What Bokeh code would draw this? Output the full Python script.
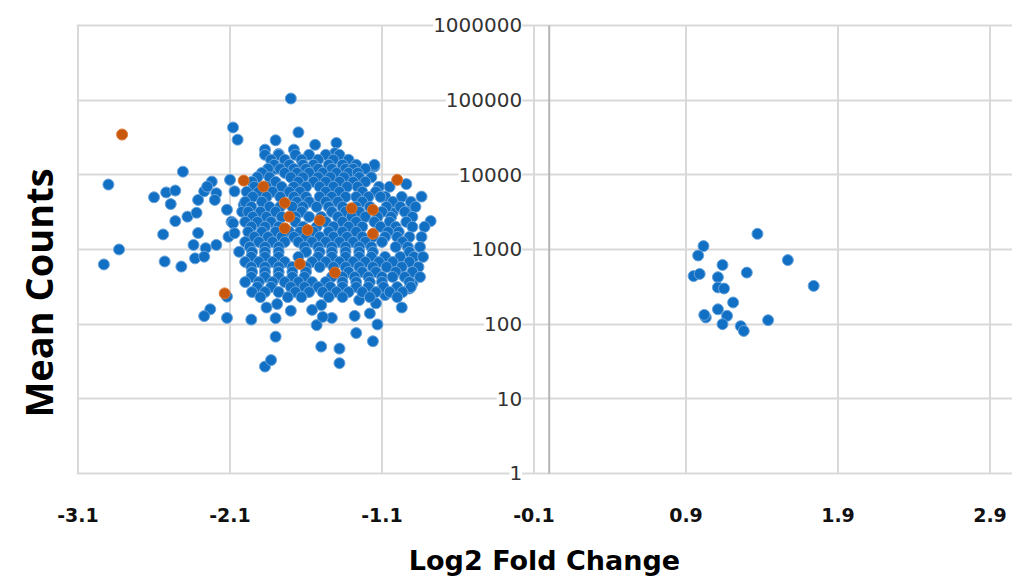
import math
from bokeh.plotting import figure
from bokeh.models import FixedTicker, Label, Title
from bokeh.embed import file_html
from bokeh.resources import INLINE

# ---------------- data ----------------
xtick_values = [-3.1, -2.1, -1.1, -0.1, 0.9, 1.9, 2.9]
xtick_labels = ["-3.1", "-2.1", "-1.1", "-0.1", "0.9", "1.9", "2.9"]
ytick_values = [1, 10, 100, 1000, 10000, 100000, 1000000]
ytick_labels = ["1", "10", "100", "1000", "10000", "100000", "1000000"]
value_axis_at = 0.0

# sparse blue points (left group)
sparse_lfc = [-2.90, -2.41, -2.08, -2.05, -2.60, -2.52, -2.46, -2.49, -2.46, -2.38, -2.32, -2.31,
              -2.27, -2.22, -2.19, -2.20, -2.25, -2.12, -2.10, -2.07, -2.01, -2.02, -2.09,
              -1.70, -1.65, -1.80, -1.87, -1.78, -1.68, -1.54, -1.40, -1.41, -1.15, -1.80,
              -0.94, -0.84, -0.90, -0.78, -1.08, -1.03,
              -2.83, -2.93, -2.53, -2.42, -2.54, -2.31, -2.34, -2.33, -2.26, -2.19, -2.27,
              -2.12, -2.23, -2.27, -2.12, -2.08, -2.11, -2.07, -2.04,
              -1.96, -1.80, -1.87, -1.83, -1.86, -1.79, -1.80, -1.70, -1.50, -1.38, -1.38,
              -1.53, -1.43, -1.28, -1.27, -1.16, -1.13, -1.18, -0.97, -0.92, -0.88, -1.50,
              -1.56, -1.49, -1.14, -1.08, -1.25, -0.90]
sparse_counts = [7400, 11000, 43000, 29500, 5000, 5800, 6150, 4050, 2400, 2750, 3100, 4600,
                 6000, 8100, 5650, 4600, 6950, 3400, 8550, 6000, 3950, 3200, 2350,
                 105000, 37000, 29000, 21700, 19000, 21700, 25200, 26700, 19500, 12900, 12000,
                 7500, 5100, 3750, 2400, 5100, 3080,
                 1000, 630, 690, 590, 1590, 1660, 1150, 760, 1040, 1150, 800,
                 233, 158, 128, 121, 2240, 1480, 1650, 930,
                 115, 68, 27, 33, 167, 186, 120, 151, 50, 47, 30,
                 97, 121, 129, 76, 59, 99, 139, 167, 300, 560, 180,
                 155, 125, 190, 245, 210, 350]

# dense core of the left group, read row by row (counts of the row, fold changes in it)
core_row_counts = [18500, 15900, 13600, 12000, 10600, 9250, 8050, 6900, 5910, 5060, 4340, 3720,
                   3190, 2730, 2340, 2010, 1720, 1470, 1260, 1080, 925, 795, 680, 582, 499, 428,
                   366, 314, 269, 230]
core_row_lfc = [
    [-1.87, -1.78, -1.67, -1.58, -1.47, -1.38],
    [-1.83, -1.74, -1.63, -1.52, -1.42, -1.32],
    [-1.81, -1.71, -1.62, -1.55, -1.45, -1.36, -1.27, -1.15],
    [-1.85, -1.77, -1.68, -1.60, -1.52, -1.43, -1.34, -1.29, -1.21],
    [-1.89, -1.74, -1.66, -1.58, -1.49, -1.40, -1.32, -1.26],
    [-1.92, -1.84, -1.70, -1.62, -1.52, -1.44, -1.35, -1.25, -1.17],
    [-1.955, -1.80, -1.65, -1.55, -1.47, -1.38, -1.29, -1.21],
    [-1.94, -1.86, -1.76, -1.68, -1.60, -1.51, -1.42, -1.33, -1.26, -1.12, -1.05],
    [-1.99, -1.91, -1.82, -1.71, -1.64, -1.47, -1.38, -1.23, -1.14],
    [-1.95, -1.86, -1.77, -1.68, -1.60, -1.51, -1.43, -1.34, -1.27, -1.19, -1.11, -0.97],
    [-2.00, -1.89, -1.66, -1.58, -1.47, -1.39, -1.23, -1.03, -0.91],
    [-1.96, -1.84, -1.77, -1.69, -1.62, -1.53, -1.45, -1.36, -1.27, -1.18, -1.07, -0.98, -0.88],
    [-1.98, -1.90, -1.80, -1.63, -1.43, -1.34, -1.25, -1.10, -0.95],
    [-1.95, -1.86, -1.76, -1.67, -1.58, -1.50, -1.39, -1.30, -1.21, -1.13, -1.04, -0.90],
    [-2.00, -1.92, -1.83, -1.67, -1.47, -1.36, -1.27, -1.15, -1.05, -0.94],
    [-1.96, -1.87, -1.78, -1.62, -1.53, -1.42, -1.32, -1.23, -1.11, -1.01, -0.90, -0.82],
    [-1.98, -1.89, -1.80, -1.71, -1.64, -1.55, -1.45, -1.36, -1.27, -1.06, -0.99],
    [-1.94, -1.85, -1.76, -1.68, -1.60, -1.51, -1.42, -1.33, -1.23, -1.16, -1.08, -1.00, -0.92, -0.84],
    [-2.00, -1.91, -1.82, -1.74, -1.65, -1.56, -1.47, -1.38, -1.29, -1.21, -1.10, -0.965],
    [-1.97, -1.87, -1.78, -1.61, -1.52, -1.43, -1.34, -1.25, -1.17, -1.01, -0.93, -0.85],
    [-1.955, -1.87, -1.78, -1.60, -1.51, -1.43, -1.34, -1.25, -1.16, -0.92],
    [-1.96, -1.87, -1.78, -1.65, -1.52, -1.43, -1.34, -1.25, -1.17, -1.08, -0.98, -0.89, -0.83],
    [-2.00, -1.91, -1.82, -1.74, -1.56, -1.47, -1.38, -1.29, -1.21, -1.12, -1.03, -0.92],
    [-1.96, -1.87, -1.78, -1.69, -1.60, -1.51, -1.42, -1.34, -1.25, -1.16, -1.07, -0.97, -0.86],
    [-1.955, -1.87, -1.78, -1.69, -1.60, -1.32, -1.23, -1.14, -1.01, -0.90],
    [-1.96, -1.87, -1.78, -1.69, -1.61, -1.43, -1.36, -1.28, -1.19, -1.10, -1.03, -0.95, -0.85],
    [-2.00, -1.91, -1.82, -1.74, -1.65, -1.56, -1.47, -1.36, -1.27, -1.18, -1.10, -0.92],
    [-1.92, -1.83, -1.70, -1.61, -1.52, -1.44, -1.36, -1.27, -1.19, -1.09, -1.00, -0.91],
    [-1.955, -1.87, -1.78, -1.67, -1.58, -1.49, -1.40, -1.32, -1.23, -1.14, -1.05, -0.965],
    [-1.90, -1.72, -1.63, -1.45, -1.36, -1.18, -1.00],
]

# right group (positive fold change)
right_lfc = [1.37, 1.015, 0.98, 1.57, 1.14, 1.30, 0.95, 0.99, 1.11, 1.74, 1.11, 1.15,
             1.21, 1.11, 1.17, 1.03, 1.44, 1.14, 1.26, 1.28, 1.02]
right_counts = [1620, 1110, 830, 720, 620, 490, 440, 470, 425, 325, 310, 300,
                195, 158, 129, 123, 113, 100, 94, 81, 133]

# highlighted (orange) genes
orange_lfc = [-2.81, -2.01, -1.88, -1.74, -1.71, -1.74, -1.59, -1.51, -1.30, -1.16, -1.16, -1.00,
              -1.64, -1.41, -2.135]
orange_counts = [34600, 8350, 6950, 4200, 2750, 1920, 1820, 2450, 3560, 3390, 1620, 8550,
                 640, 490, 258]

# ---------------- assemble ----------------
blue_lfc = list(sparse_lfc) + list(right_lfc)
blue_counts = list(sparse_counts) + list(right_counts)
for c, row in zip(core_row_counts, core_row_lfc):
    for v in row:
        blue_lfc.append(v)
        blue_counts.append(c)

BLUE = "#1270C4"
BLUE_EDGE = "#6AA4DC"
ORANGE = "#C8580E"
ORANGE_EDGE = "#E07A33"
GRID = "#D9D9D9"

ymin, ymax = ytick_values[0], ytick_values[-1]

p = figure(width=1012, height=581, x_range=(-3.11, 3.048), y_range=(0.712, 1.40e6),
           y_axis_type="log", output_backend="svg", toolbar_location=None,
           min_border_left=76, min_border_right=0, min_border_top=14, min_border_bottom=97)
p.outline_line_color = None
p.background_fill_color = "white"
p.border_fill_color = "white"

p.yaxis.visible = False
p.xaxis.ticker = FixedTicker(ticks=xtick_values)
p.xaxis.major_label_overrides = {v: s for v, s in zip(xtick_values, xtick_labels)}
p.xaxis.axis_line_color = None
p.xaxis.major_tick_line_color = None
p.xaxis.minor_tick_line_color = None
p.xaxis.major_tick_out = 0
p.xaxis.major_tick_in = 0
p.xaxis.major_label_standoff = 23
p.xaxis.major_label_text_font = "DejaVu Sans"
p.xaxis.major_label_text_font_style = "bold"
p.xaxis.major_label_text_font_size = "19px"
p.xaxis.major_label_text_color = "#111111"
p.xaxis.axis_label = "Log2 Fold Change"
p.xaxis.axis_label_standoff = 20
p.xaxis.axis_label_text_font = "DejaVu Sans"
p.xaxis.axis_label_text_font_style = "bold"
p.xaxis.axis_label_text_font_size = "27px"
p.xaxis.axis_label_text_color = "#000000"

# vertical grid lines only between 1 and 1e6
p.xgrid.visible = False
p.segment(x0=xtick_values, y0=[ymin] * len(xtick_values), x1=xtick_values,
          y1=[ymax] * len(xtick_values), line_color=GRID, line_width=2)
p.ygrid.ticker = FixedTicker(ticks=ytick_values)
p.ygrid.grid_line_color = GRID
p.ygrid.grid_line_width = 2

# vertical value axis crossing at x = 0
p.segment(x0=[value_axis_at], y0=[ymin], x1=[value_axis_at], y1=[ymax],
          line_color="#B5B5B5", line_width=2)

p.scatter(blue_lfc, blue_counts, size=11, fill_color=BLUE, line_color=BLUE_EDGE, line_width=1)
p.scatter(orange_lfc, orange_counts, size=11, fill_color=ORANGE, line_color=ORANGE_EDGE, line_width=1)

for v, s in zip(ytick_values, ytick_labels):
    p.add_layout(Label(x=value_axis_at, y=v, x_offset=-27, text=s, text_align="right",
                       text_baseline="middle", text_font="DejaVu Sans", text_font_size="20px",
                       text_color="#333333", background_fill_color="white",
                       background_fill_alpha=1.0))

p.add_layout(Title(text="Mean Counts", align="left", offset=67, vertical_align="top",
                   standoff=22, text_font="Open Sans", text_font_style="bold",
                   text_font_size="38px", text_color="#000000"), "left")

open("out.html", "w").write(file_html(p, INLINE))
